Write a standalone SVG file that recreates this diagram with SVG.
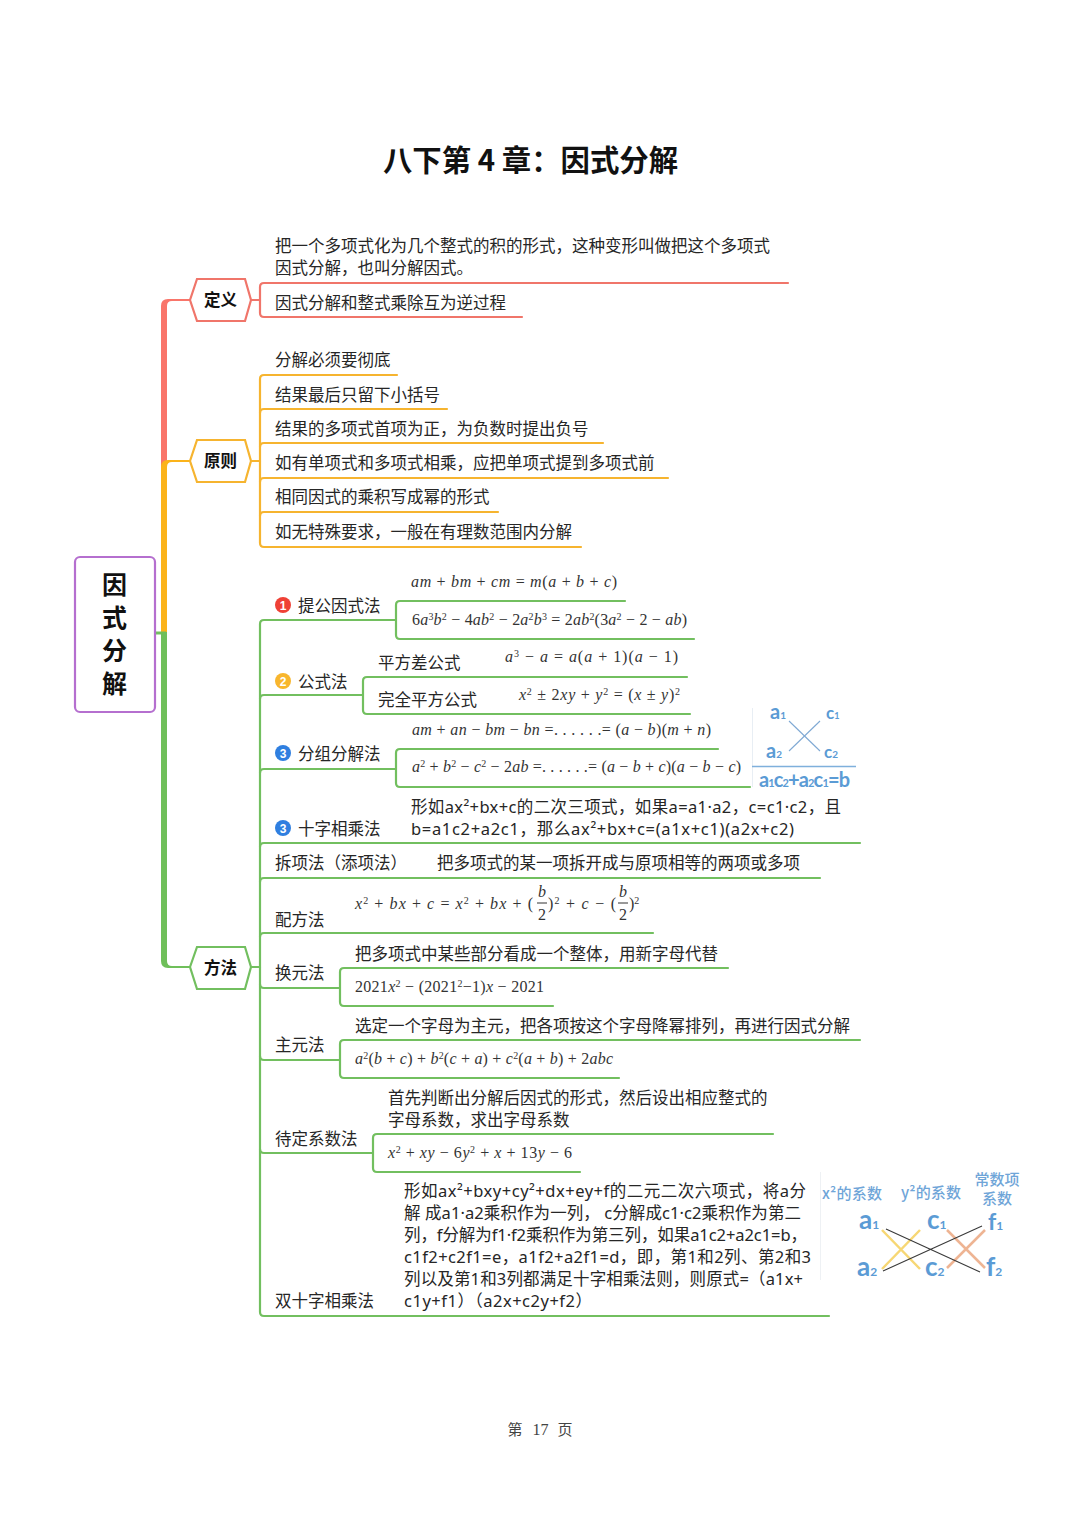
<svg xmlns="http://www.w3.org/2000/svg" width="1080" height="1527" viewBox="0 0 1080 1527">
<style>
text{font-family:"Noto Sans CJK SC","Noto Sans",sans-serif;font-size:16.5px;fill:#262626}
.b{font-weight:700;fill:#111}
.t{font-family:"Noto Sans","Noto Sans CJK SC",sans-serif}
.m{font-family:"Liberation Serif","Noto Sans CJK SC",serif;font-style:italic;font-size:16px;fill:#333}
.u{font-style:normal}
.l{fill:none;stroke-width:2.2;stroke-linecap:round;stroke-linejoin:round}
.r{stroke:#f0756a}.y{stroke:#f6b42f}.g{stroke:#72bf5f}
.h{fill:#fff;stroke-width:2.2}
.c{font-family:"Lato","Noto Sans",sans-serif;font-weight:700;fill:#5b9bd5;font-size:26px}
.s{font-family:"Lato","Noto Sans",sans-serif;font-weight:700;fill:#5b9bd5;font-size:20px}
.cs{font-family:"Noto Sans CJK SC",sans-serif;font-weight:500;fill:#6fa5d8;font-size:15px}
.n{fill:#fff;font-family:"Liberation Sans",sans-serif;font-weight:700;font-size:12px;text-anchor:middle}
</style>
<rect width="1080" height="1527" fill="#fff"/>
<text class="b" x="530.5" y="171" text-anchor="middle" style="font-size:29.4px">八下第 4 章：因式分解</text>

<g id="connectors">
<path d="M161 633V306Q161 299 168 299H190V301H172Q167 301 167 306V633Z" fill="#f9756a"/>
<path d="M161 634V467Q161 460 168 460H190V462H172Q167 462 167 467V634Z" fill="#fbb31a"/>
<path d="M155 633H166" stroke="#72bf5f" stroke-width="3" fill="none"/>
<path d="M161 632V961Q161 968 168 968H190V966H172Q167 966 167 961V632Z" fill="#6fbf5a"/>

<path d="M251 300H260" class="l r"/>
<path d="M788 283H264Q260 283 260 287V313Q260 317 264 317H522" class="l r"/>

<path d="M251 461H260" class="l y"/>
<path d="M397 375H264Q260 375 260 379V543Q260 547 264 547H581" class="l y"/>
<path d="M260 413Q260 409 264 409H447M260 447Q260 443 264 443H603M260 482Q260 478 264 478H668M260 516Q260 512 264 512H498" class="l y"/>

<path d="M251 967H260" class="l g"/>
<path d="M396 620H264Q260 620 260 624V1312Q260 1316 264 1316H829" class="l g"/>
<path d="M625 601H400Q396 601 396 605V635Q396 639 400 639H694" class="l g"/>
<path d="M260 699Q260 695 264 695H363" class="l g"/>
<path d="M687 677H367Q363 677 363 681V710Q363 714 367 714H690" class="l g"/>
<path d="M260 773Q260 769 264 769H396" class="l g"/>
<path d="M718 749H400Q396 749 396 753V783Q396 787 400 787H750" class="l g"/>
<path d="M260 847Q260 843 264 843H860" class="l g"/>
<path d="M260 882Q260 878 264 878H820" class="l g"/>
<path d="M260 937Q260 933 264 933H653" class="l g"/>
<path d="M260 984Q260 988 264 988H340" class="l g"/>
<path d="M728 968H344Q340 968 340 972V1002Q340 1006 344 1006H553" class="l g"/>
<path d="M260 1056Q260 1060 264 1060H340" class="l g"/>
<path d="M860 1040H344Q340 1040 340 1044V1074Q340 1078 344 1078H619" class="l g"/>
<path d="M260 1149Q260 1153 264 1153H373" class="l g"/>
<path d="M773 1134H377Q373 1134 373 1138V1168Q373 1172 377 1172H580" class="l g"/>
</g>

<g id="root">
<rect x="75" y="557" width="80" height="155" rx="5" fill="#fff" stroke="#b56fcf" stroke-width="2.2"/>
<g text-anchor="middle"><text class="b" x="114.5" y="594" style="font-size:25px">因</text><text class="b" x="114.5" y="627" style="font-size:25px">式</text><text class="b" x="114.5" y="660" style="font-size:25px">分</text><text class="b" x="114.5" y="693" style="font-size:25px">解</text></g>
</g>
<g id="node-dingyi"><polygon class="h r" points="190,300 197,279 245,279 251,300 245,321 197,321"/><text class="b" x="220.5" y="306" text-anchor="middle">定义</text></g>
<g id="node-yuanze"><polygon class="h y" points="190,461 197,440 245,440 251,461 245,482 197,482"/><text class="b" x="220.5" y="467" text-anchor="middle">原则</text></g>
<g id="node-fangfa"><polygon class="h g" points="190,967 197,947 245,947 251,967 245,989 197,989"/><text class="b" x="220.5" y="974" text-anchor="middle">方法</text></g>

<g id="node-def">
<text x="275" y="252">把一个多项式化为几个整式的积的形式，这种变形叫做把这个多项式</text>
<text x="275" y="274">因式分解，也叫分解因式。</text>
<text x="275" y="308.5">因式分解和整式乘除互为逆过程</text>
</g>
<g id="node-principles">
<text x="275" y="366">分解必须要彻底</text>
<text x="275" y="400.5">结果最后只留下小括号</text>
<text x="275" y="434.5">结果的多项式首项为正，为负数时提出负号</text>
<text x="275" y="469">如有单项式和多项式相乘，应把单项式提到多项式前</text>
<text x="275" y="503">相同因式的乘积写成幂的形式</text>
<text x="275" y="538">如无特殊要求，一般在有理数范围内分解</text>
</g>
<g id="node-m1">
<circle cx="283" cy="605" r="8" fill="#ef4136"/><text class="n" x="283" y="609.5">1</text>
<text x="298" y="611.7">提公因式法</text>
<text class="m" x="411" y="587" textLength="206">am <tspan class="u">+</tspan> bm <tspan class="u">+</tspan> cm <tspan class="u">=</tspan> m<tspan class="u">(</tspan>a <tspan class="u">+</tspan> b <tspan class="u">+</tspan> c<tspan class="u">)</tspan></text>
<text class="m" x="412" y="625" textLength="275"><tspan class="u">6</tspan>a<tspan class="u" dy="-5" font-size="10">3</tspan><tspan dy="5">b</tspan><tspan class="u" dy="-5" font-size="10">2</tspan><tspan class="u" dy="5"> − 4</tspan>ab<tspan class="u" dy="-5" font-size="10">2</tspan><tspan class="u" dy="5"> − 2</tspan>a<tspan class="u" dy="-5" font-size="10">2</tspan><tspan dy="5">b</tspan><tspan class="u" dy="-5" font-size="10">3</tspan><tspan class="u" dy="5"> = 2</tspan>ab<tspan class="u" dy="-5" font-size="10">2</tspan><tspan class="u" dy="5">(3</tspan>a<tspan class="u" dy="-5" font-size="10">2</tspan><tspan class="u" dy="5"> − 2 − </tspan>ab<tspan class="u">)</tspan></text>
</g>
<g id="node-m2">
<circle cx="283" cy="681" r="8" fill="#f8b62d"/><text class="n" x="283" y="685.5">2</text>
<text x="298" y="687.7">公式法</text>
<text x="378" y="668.7">平方差公式</text>
<text x="378" y="706">完全平方公式</text>
<text class="m" x="505" y="662" textLength="173">a<tspan class="u" dy="-5" font-size="10">3</tspan><tspan class="u" dy="5"> − </tspan>a<tspan class="u"> = </tspan>a<tspan class="u">(</tspan>a<tspan class="u"> + 1)(</tspan>a<tspan class="u"> − 1)</tspan></text>
<text class="m" x="519" y="700" textLength="161">x<tspan class="u" dy="-5" font-size="10">2</tspan><tspan class="u" dy="5"> ± 2</tspan>xy<tspan class="u"> + </tspan>y<tspan class="u" dy="-5" font-size="10">2</tspan><tspan class="u" dy="5"> = (</tspan>x<tspan class="u"> ± </tspan>y<tspan class="u">)</tspan><tspan class="u" dy="-5" font-size="10">2</tspan></text>
</g>
<g id="node-m3">
<circle cx="283" cy="753" r="8" fill="#2f7fe0"/><text class="n" x="283" y="757.5">3</text>
<text x="298" y="759.7">分组分解法</text>
<text class="m" x="412" y="735" textLength="299">am<tspan class="u"> + </tspan>an<tspan class="u"> − </tspan>bm<tspan class="u"> − </tspan>bn<tspan class="u"> =. . . . . .= (</tspan>a<tspan class="u"> − </tspan>b<tspan class="u">)(</tspan>m<tspan class="u"> + </tspan>n<tspan class="u">)</tspan></text>
<text class="m" x="412" y="772" textLength="329">a<tspan class="u" dy="-5" font-size="10">2</tspan><tspan class="u" dy="5"> + </tspan>b<tspan class="u" dy="-5" font-size="10">2</tspan><tspan class="u" dy="5"> − </tspan>c<tspan class="u" dy="-5" font-size="10">2</tspan><tspan class="u" dy="5"> − 2</tspan>ab<tspan class="u"> =. . . . . .= (</tspan>a<tspan class="u"> − </tspan>b<tspan class="u"> + </tspan>c<tspan class="u">)(</tspan>a<tspan class="u"> − </tspan>b<tspan class="u"> − </tspan>c<tspan class="u">)</tspan></text>
</g>
<g id="cross-1">
<line x1="752.5" y1="708" x2="752.5" y2="787" stroke="#e8eef4" stroke-width="1"/>
<line x1="789" y1="721" x2="820" y2="751" stroke="#7fa9d4" stroke-width="1.1"/>
<line x1="820" y1="721" x2="789" y2="751" stroke="#7fa9d4" stroke-width="1.1"/>
<line x1="752" y1="766.5" x2="856" y2="766.5" stroke="#7fb0dc" stroke-width="1.3"/>
<text class="s" x="770" y="719">a<tspan font-size="10" dy="0">1</tspan></text>
<text class="s" x="826" y="719" style="font-size:17px">c<tspan font-size="9">1</tspan></text>
<text class="s" x="766" y="758">a<tspan font-size="10">2</tspan></text>
<text class="s" x="824" y="758" style="font-size:17px">c<tspan font-size="10">2</tspan></text>
<text class="s" x="759" y="787" textLength="91">a<tspan font-size="11">1</tspan>c<tspan font-size="11">2</tspan>+a<tspan font-size="11">2</tspan>c<tspan font-size="11">1</tspan>=b</text>
</g>
<g id="node-m4">
<circle cx="283" cy="828" r="8" fill="#2f7fe0"/><text class="n" x="283" y="832.5">3</text>
<text x="298" y="834.7">十字相乘法</text>
<text class="t" x="411" y="812.7" textLength="430">形如ax²+bx+c的二次三项式，如果a=a1·a2，c=c1·c2，且</text>
<text class="t" x="411" y="834.7" textLength="383">b=a1c2+a2c1，那么ax²+bx+c=(a1x+c1)(a2x+c2)</text>
</g>
<g id="node-m5">
<text x="275" y="868.7">拆项法（添项法）</text>
<text x="437" y="868.7">把多项式的某一项拆开成与原项相等的两项或多项</text>
</g>
<g id="node-m6">
<text x="275" y="925.7">配方法</text>
<text class="m" x="355" y="909" textLength="178">x<tspan class="u" dy="-5" font-size="10">2</tspan><tspan class="u" dy="5"> + </tspan>bx<tspan class="u"> + </tspan>c<tspan class="u"> = </tspan>x<tspan class="u" dy="-5" font-size="10">2</tspan><tspan class="u" dy="5"> + </tspan>bx<tspan class="u"> + (</tspan></text>
<text class="m" x="538" y="897">b</text><line x1="537" y1="903" x2="547" y2="903" stroke="#333"/><text class="m u" x="538" y="920">2</text>
<text class="m u" x="548" y="909" textLength="68">)<tspan dy="-5" font-size="10">2</tspan><tspan dy="5"> + </tspan><tspan style="font-style:italic">c</tspan> − (</text>
<text class="m" x="619" y="897">b</text><line x1="618" y1="903" x2="628" y2="903" stroke="#333"/><text class="m u" x="619" y="920">2</text>
<text class="m u" x="629" y="909">)<tspan dy="-5" font-size="10">2</tspan></text>
</g>
<g id="node-m7">
<text x="275" y="978.7">换元法</text>
<text x="355" y="959.7">把多项式中某些部分看成一个整体，用新字母代替</text>
<text class="m" x="355" y="992" textLength="189"><tspan class="u">2021</tspan>x<tspan class="u" dy="-5" font-size="10">2</tspan><tspan class="u" dy="5"> − (2021</tspan><tspan class="u" dy="-5" font-size="10">2</tspan><tspan class="u" dy="5">−1)</tspan>x<tspan class="u"> − 2021</tspan></text>
</g>
<g id="node-m8">
<text x="275" y="1050.7">主元法</text>
<text x="355" y="1031.7">选定一个字母为主元，把各项按这个字母降幂排列，再进行因式分解</text>
<text class="m" x="355" y="1064" textLength="258">a<tspan class="u" dy="-5" font-size="10">2</tspan><tspan class="u" dy="5">(</tspan>b<tspan class="u"> + </tspan>c<tspan class="u">) + </tspan>b<tspan class="u" dy="-5" font-size="10">2</tspan><tspan class="u" dy="5">(</tspan>c<tspan class="u"> + </tspan>a<tspan class="u">) + </tspan>c<tspan class="u" dy="-5" font-size="10">2</tspan><tspan class="u" dy="5">(</tspan>a<tspan class="u"> + </tspan>b<tspan class="u">) + 2</tspan>abc</text>
</g>
<g id="node-m9">
<text x="275" y="1144.7">待定系数法</text>
<text x="388" y="1103.7">首先判断出分解后因式的形式，然后设出相应整式的</text>
<text x="388" y="1126">字母系数，求出字母系数</text>
<text class="m" x="388" y="1158" textLength="184">x<tspan class="u" dy="-5" font-size="10">2</tspan><tspan class="u" dy="5"> + </tspan>xy<tspan class="u"> − 6</tspan>y<tspan class="u" dy="-5" font-size="10">2</tspan><tspan class="u" dy="5"> + </tspan>x<tspan class="u"> + 13</tspan>y<tspan class="u"> − 6</tspan></text>
</g>
<g id="node-m10">
<text x="275" y="1307">双十字相乘法</text>
<text class="t" x="404" y="1197" textLength="402">形如ax²+bxy+cy²+dx+ey+f的二元二次六项式，将a分</text>
<text class="t" x="404" y="1219" textLength="397">解 成a1·a2乘积作为一列， c分解成c1·c2乘积作为第二</text>
<text class="t" x="404" y="1241" textLength="403">列，f分解为f1·f2乘积作为第三列，如果a1c2+a2c1=b，</text>
<text class="t" x="404" y="1263" textLength="407">c1f2+c2f1=e，a1f2+a2f1=d，即，第1和2列、第2和3</text>
<text class="t" x="404" y="1285" textLength="399">列以及第1和3列都满足十字相乘法则，则原式=（a1x+</text>
<text class="t" x="404" y="1307" textLength="188">c1y+f1）（a2x+c2y+f2）</text>
</g>
<g id="cross-2">
<line x1="820.5" y1="1172" x2="820.5" y2="1280" stroke="#eef1f4" stroke-width="1"/>
<text class="cs t" x="822" y="1199" textLength="60">x²的系数</text>
<text class="cs t" x="901" y="1198" textLength="60">y²的系数</text>
<text class="cs" x="997" y="1185" text-anchor="middle">常数项</text>
<text class="cs" x="997" y="1204" text-anchor="middle">系数</text>
<g fill="none">
<path d="M882 1230L920 1269M920 1230L882 1269" stroke="#f7d774" stroke-width="2.5"/>
<path d="M947 1230L985 1268M985 1230L947 1268" stroke="#eeb493" stroke-width="2.5"/>
<path d="M886 1229L980 1272M883 1271L982 1226" stroke="#3a3a3a" stroke-width="1.1"/>
</g>
<text class="c" x="859" y="1229">a<tspan font-size="12">1</tspan></text>
<text class="c" x="927" y="1229">c<tspan font-size="12">1</tspan></text>
<text class="c" x="988" y="1230" style="font-size:23px">f<tspan font-size="12">1</tspan></text>
<text class="c" x="857" y="1276">a<tspan font-size="12">2</tspan></text>
<text class="c" x="925" y="1276">c<tspan font-size="12">2</tspan></text>
<text class="c" x="986" y="1276">f<tspan font-size="12">2</tspan></text>
</g>
<g id="footer" style="fill:#444">
<text x="515" y="1435" text-anchor="middle" style="font-family:'Noto Sans CJK SC',serif;font-size:15px;fill:#444">第</text>
<text x="540.5" y="1435" text-anchor="middle" style="font-family:'Liberation Serif',serif;font-size:16px;fill:#444">17</text>
<text x="565" y="1435" text-anchor="middle" style="font-family:'Noto Sans CJK SC',serif;font-size:15px;fill:#444">页</text>
</g>
</svg>
